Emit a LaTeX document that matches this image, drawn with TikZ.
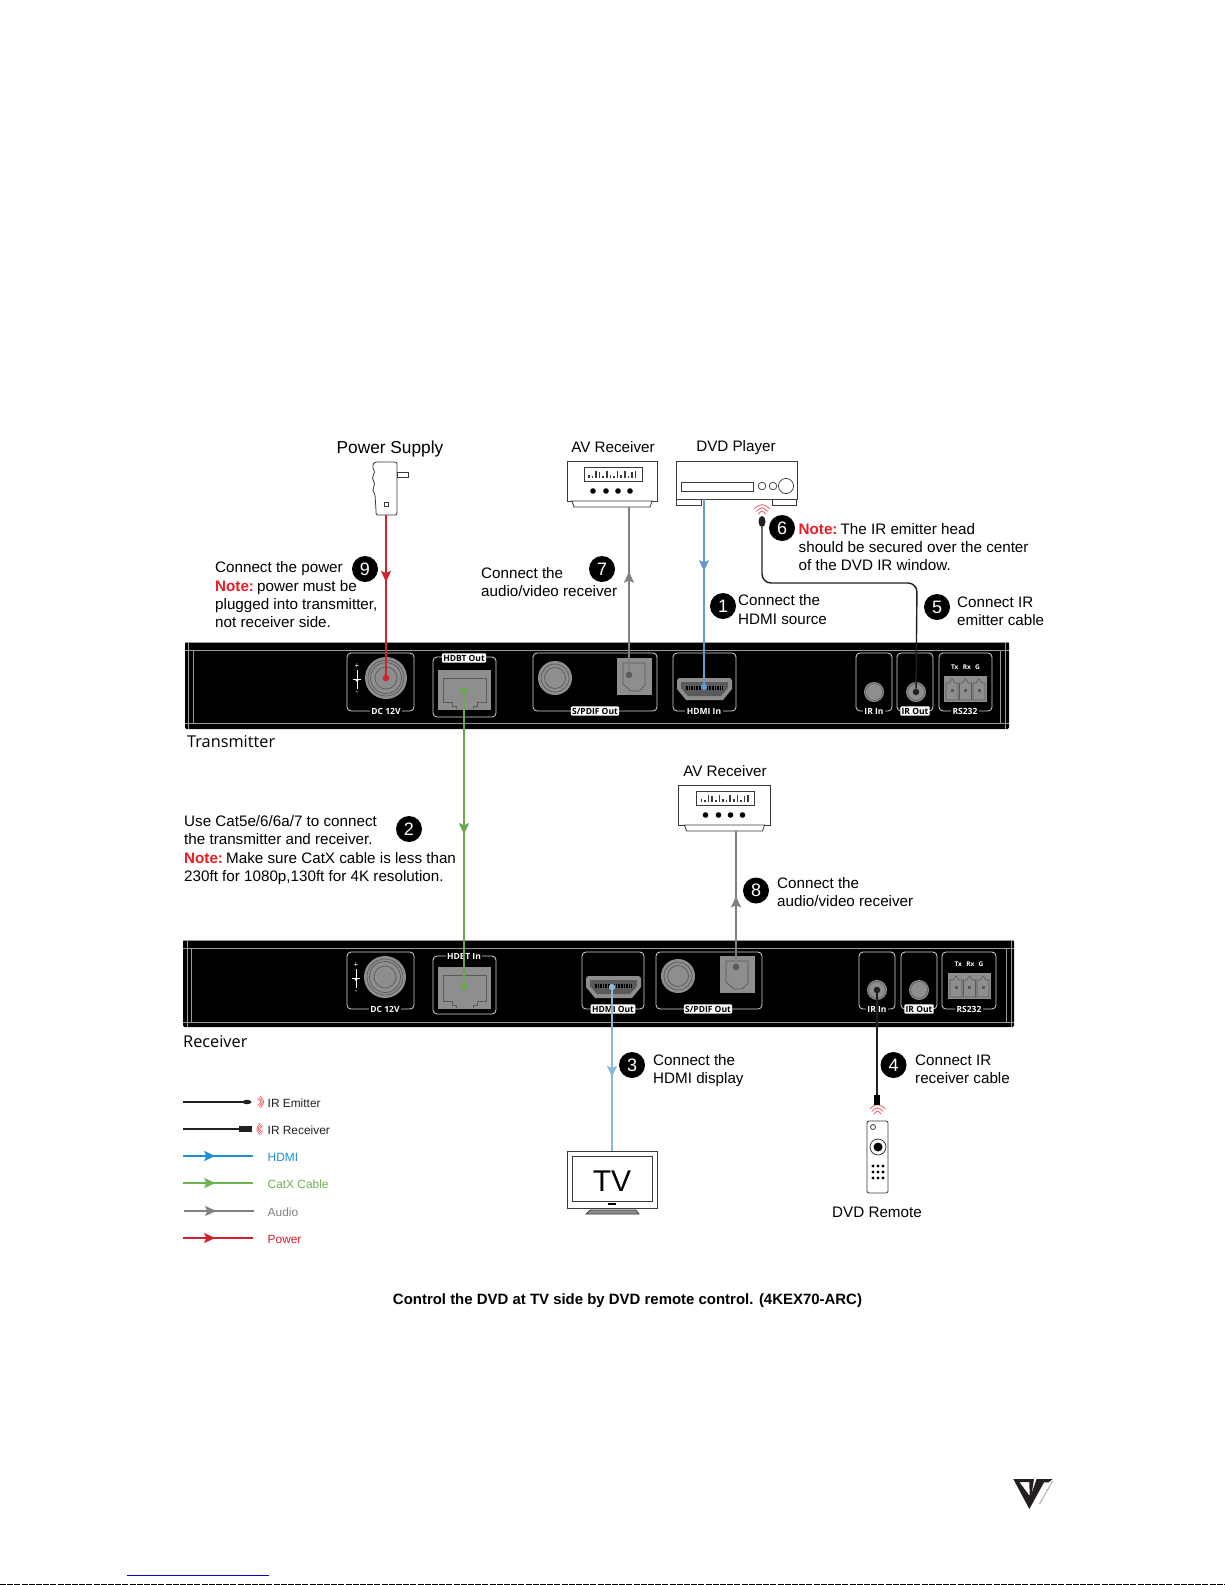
\documentclass[tikz,border=0pt]{standalone}
\usepackage{fontspec}
\setmainfont{Liberation Sans}
\newfontfamily\opn{Open Sans}
\usetikzlibrary{arrows.meta,decorations.markings,shapes.geometric,calc}
\definecolor{cred}{HTML}{D2232A}
\definecolor{cblue}{HTML}{6699CC}
\definecolor{cbluelt}{HTML}{8DB7DA}
\definecolor{cgreen}{HTML}{6AA84F}
\definecolor{cgrey}{HTML}{808080}
\definecolor{cink}{HTML}{231F20}
\definecolor{notered}{HTML}{ED1C24}
\definecolor{portgrey}{HTML}{8E8E8E}
\definecolor{portdark}{HTML}{5A5A5A}
\definecolor{lblue}{HTML}{1B8FD8}
\definecolor{lgreen}{HTML}{6DB24F}
\definecolor{lred}{HTML}{D2202E}
\definecolor{irred}{HTML}{EE5A5F}
\definecolor{devline}{HTML}{3A3A3A}
\newcommand{\fsz}[1]{\fontsize{#1}{#1}\selectfont}
\newcommand{\panelbody}[8]{% x0 y0 x1 y1 innerTop innerBottom leftA rightA
  \fill[black,rounded corners=1.5pt] (#1,#2) rectangle (#3,#4);
  \draw[panelline] (#1,#2+0.7) -- (#3,#2+0.7);
  \draw[panelline] (#1,#5) -- (#3,#5);
  \draw[panelline] (#1,#6) -- (#3,#6);
  \draw[panelline] (#7,#2) -- (#7,#4);
  \draw[panelline] (#7+4.5,#5) -- (#7+4.5,#6);
  \draw[panelline] (#8,#2) -- (#8,#4);
  \draw[panelline] (#8-4.5,#5) -- (#8-4.5,#6);
}
\newcommand{\portbox}[4]{\draw[portframe] (#1,#2) rectangle (#3,#4);}
\newcommand{\dcjack}[2]{%
  \fill[portgrey] (#1,#2) circle[radius=21pt];
  \draw[portdark,line width=0.7pt] (#1,#2) circle[radius=18pt] (#1,#2) circle[radius=15.5pt] (#1,#2) circle[radius=11pt];
  \fill[black!45] (#1,#2) circle[radius=7pt];
}
\newcommand{\dcsym}[2]{%
  \draw[white,line width=0.6pt] (#1,#2-10) -- (#1,#2+9);
  \fill[white] (#1-2.5,#2-1) -- (#1+2.5,#2-1) -- (#1,#2+2) -- cycle;
  \draw[white,line width=0.6pt] (#1-4,#2-1) -- (#1+4,#2-1);
  \node[font=\fsz{8},text=white,inner sep=0pt] at (#1,#2-14) {+};
  \node[font=\fsz{8},text=white,inner sep=0pt] at (#1,#2+13) {-};
}
\newcommand{\rjport}[4]{% x0 y0 x1 y1 (grey block)
  \fill[portgrey] (#1,#2) rectangle (#3,#4);
  \draw[portdark,line width=0.7pt] (#1+5,#4-8) -- (#1+5,#2+8) -- (#3-5,#2+8) -- (#3-5,#4-8) -- (#3-14,#4-8) -- (#3-14,#4-4) -- (#3-18,#4-4) -- (#3-18,#4-1);
  \draw[portdark,line width=0.7pt] (#1+5,#4-8) -- (#1+14,#4-8) -- (#1+14,#4-4) -- (#1+18,#4-4) -- (#1+18,#4-1);
}
\newcommand{\hdmiport}[2]{% x0 y0 (upper left corner)
  \fill[portgrey] (#1,#2+2) -- (#1+2,#2) -- (#1+53,#2) -- (#1+55,#2+2) -- (#1+55,#2+11) -- (#1+46,#2+22) -- (#1+9,#2+22) -- (#1,#2+11) -- cycle;
  \fill[portdark] (#1+4,#2+4) -- (#1+51,#2+4) -- (#1+51,#2+10) -- (#1+44,#2+18) -- (#1+11,#2+18) -- (#1+4,#2+10) -- cycle;
  \draw[black,line width=3.5pt,dash pattern=on 1.6pt off 1pt] (#1+9,#2+10) -- (#1+46,#2+10);
}
\newcommand{\optport}[2]{% x0 y0
  \fill[portgrey] (#1,#2) rectangle (#1+35,#2+37);
  \draw[portdark,line width=0.7pt] (#1+6,#2+5) -- (#1+6,#2+26) -- (#1+14,#2+33) -- (#1+22,#2+33) -- (#1+28,#2+27) -- (#1+28,#2+5) -- cycle;
}
\newcommand{\roundjack}[2]{%
  \fill[portgrey] (#1,#2) circle[radius=17pt];
  \draw[portdark,line width=0.7pt] (#1,#2) circle[radius=14pt] (#1,#2) circle[radius=10.5pt];
}
\newcommand{\smalljack}[2]{%
  \fill[portgrey] (#1,#2) circle[radius=10pt];
  \draw[portdark,line width=0.6pt] (#1,#2) circle[radius=8.5pt];
}
\newcommand{\termblock}[2]{% x0 y0 (width 43, height 26)
  \fill[portgrey] (#1,#2) rectangle (#1+43,#2+26);
  \foreach \k in {0,1,2}{
    \draw[portdark,line width=0.6pt] (#1+2+\k*13.5,#2+7) -- ++(0,17) -- ++(12,0) -- ++(0,-17) -- ++(-3,0) -- ++(-3,-4) -- ++(-3,4) -- cycle;
    \fill[portdark] (#1+6.5+\k*13.5,#2+13) rectangle ++(3,3);
  }
}
\newcommand{\eqbars}[2]{% x0, baseline y
  \foreach \xx/\hh in {0/3.5,1/2.5,2/7,3/6,4/2.5,5/7,6/3.5,7/2.5,8/7.5,9/3,10/7,11/2.5,12/6,13/7}
    \fill[devline] (#1+\xx*3.6,#2) rectangle ++(1.6,-\hh);
}
\newcommand{\irarcsup}[2]{%
  \begin{scope}[shift={(#1,#2)}]
    \foreach \r in {0,1,2}
      \draw[irred,line width=0.8pt] (-3.5-\r*2.2,-\r*2.6) .. controls (0,-4-\r*3.4) .. (3.5+\r*2.2,-\r*2.6);
  \end{scope}
}
\newcommand{\irarcsside}[3]{% x y dir
  \begin{scope}[shift={(#1,#2)}]
    \foreach \r in {0,1,2}
      \draw[irred,line width=0.7pt] (#3*\r*1.4,-3.2-\r*1.4) .. controls (#3*\r*1.4+#3*4.5,0) .. (#3*\r*1.4,3.2+\r*1.4);
  \end{scope}
}
\tikzset{
  x=1pt,y=-1pt,
  panelline/.style={draw=black!40,line width=0.7pt},
  portframe/.style={draw=white!85!black,line width=0.8pt,rounded corners=4pt},
  portlab/.style={text=white,fill=black,inner sep=1.4pt,font=\opn\bfseries\fsz{8.5}},
  portlabw/.style={text=black,fill=white,inner sep=1.4pt,rounded corners=1pt,font=\opn\bfseries\fsz{8.5}},
  portdot/.style={circle,fill=#1,inner sep=0pt,minimum size=6.5pt},
  cable/.style={color=#1,line width=1.5pt},
  midarrow/.style={postaction={decorate},decoration={markings,mark=at position #1 with {\arrow{Stealth[length=11pt,width=10pt,inset=2pt]}}}},
  numdot/.style={circle,fill=black,text=white,inner sep=0pt,minimum size=26pt,font=\fsz{18}},
  bodytext/.style={anchor=west,align=left,inner sep=0pt,font=\fontsize{15.2}{18.3}\selectfont,text=black},
  headtext/.style={inner sep=0pt,font=\fsz{15.2},text=black},
  sidetext/.style={anchor=west,inner sep=0pt,font=\opn\fsz{16.3},text=black},
  legtext/.style={anchor=west,inner sep=0pt,font=\fsz{11.9}},
  devbox/.style={draw=devline,line width=0.8pt,fill=white,inner sep=0pt},
  thinl/.style={draw=devline,line width=0.8pt,fill=white},
}
\newcommand{\nt}[1]{{\bfseries\color{notered}#1}}
\newcommand{\ntgap}{\hspace{-2.5pt}}
\begin{document}
\begin{tikzpicture}
\useasboundingbox (0,0) rectangle (1225,1585);
\fill[white] (0,0) rectangle (1225,1585);

%%% ---------- Transmitter panel
\panelbody{185}{642}{1009}{729}{650}{723}{188.5}{1005}
\portbox{347}{653}{414}{711}
\dcjack{386}{678}
\dcsym{357}{680}
\node[portlab] (tdc) at (386,711) {DC 12V};
\portbox{433}{657}{496}{717}
\rjport{438}{670}{491}{710}
\node[portlabw] (thdbt) at (464,658) {HDBT Out};
\portbox{533}{653}{657}{711}
\roundjack{555}{678}
\optport{617}{658}
\node[portlabw] (tspdif) at (595,711) {S/PDIF Out};
\portbox{673}{653}{736}{711}
\hdmiport{677}{678}
\node[portlab] (thdmi) at (704,711) {HDMI In};
\portbox{856}{653}{892}{711}
\smalljack{874}{692}
\node[portlab] (tirin) at (874,711) {IR In};
\portbox{897}{653}{933}{711}
\smalljack{916}{692}
\node[portlabw] (tirout) at (915,711) {IR Out};
\portbox{939}{653}{992}{711}
\node[font=\opn\bfseries\fsz{6.5},text=white,inner sep=0pt] (ttx) at (965.5,667) {Tx\,\,\,\,Rx\,\,\,\,G};
\termblock{944}{676}
\node[portlab] (trs) at (965,711) {RS232};

%%% ---------- Receiver panel
\panelbody{183}{940}{1014}{1027}{948}{1022}{187}{1011}
\portbox{347}{952}{414}{1009}
\dcjack{385}{977}
\dcsym{356}{979}
\node[portlab] (rdc) at (385,1009) {DC 12V};
\portbox{433}{956}{496}{1014}
\rjport{438}{967}{491}{1009}
\node[portlab] (rhdbt) at (464,956) {HDBT In};
\portbox{582}{952}{644}{1009}
\hdmiport{586}{976}
\node[portlabw] (rhdmi) at (613,1009) {HDMI Out};
\portbox{656}{952}{762}{1009}
\roundjack{678}{976}
\optport{720}{956}
\node[portlabw] (rspdif) at (708,1009) {S/PDIF Out};
\portbox{859}{952}{895}{1009}
\smalljack{877}{990}
\node[portlab] (ririn) at (877,1009) {IR In};
\portbox{901}{952}{937}{1009}
\smalljack{919}{990}
\node[portlabw] (rirout) at (919,1009) {IR Out};
\portbox{942}{952}{996}{1009}
\node[font=\opn\bfseries\fsz{6.5},text=white,inner sep=0pt] (rtx) at (969,964) {Tx\,\,\,\,Rx\,\,\,\,G};
\termblock{948}{973}
\node[portlab] (rrs) at (969,1009) {RS232};

%%% ---------- Power supply
\node[headtext,font=\fsz{17.3}] (psulab) at (390,449) {Power Supply};
\draw[thinl] (377,462) -- (394,462) .. controls (397,462) .. (397,466) -- (397,510) .. controls (397,515) .. (393,515) -- (380,515) .. controls (376,515) .. (376,510) -- (375,495) -- (373,490) -- (374.5,484) -- (372.5,478) -- (374.5,472) -- (373,468) .. controls (373,463) .. (377,462) -- cycle;
\draw[thinl] (397,472) -- (408,472) -- (408,477) -- (397,477) -- cycle;
\draw[devline,line width=0.7pt] (384,502) rectangle (388,506);
\coordinate (psuout) at (386,515);

%%% ---------- AV receiver (top)
\node[headtext] (av1lab) at (613,447.5) {AV Receiver};
\node[devbox,minimum width=90pt,minimum height=40pt] (av1) at (612,481) {};
\draw[thinl] (572,501) -- (652,501) -- (650,507) -- (574,507) -- cycle;
\coordinate (av1foot) at (612,507);
\node[devbox,minimum width=58pt,minimum height=14pt] (av1disp) at (613,474) {};
\eqbars{588}{478}
\foreach \xx in {593,606,618,630}
  \fill[black] (\xx,491) circle[radius=2.8pt];

%%% ---------- DVD player
\node[headtext] (dvdlab) at (736,447.5) {DVD Player};
\node[devbox,minimum width=121pt,minimum height=38pt] (dvd) at (736.5,480) {};
\node[devbox,minimum width=25pt,minimum height=6pt] (dvdfl) at (688.5,502) {};
\node[devbox,minimum width=24pt,minimum height=6pt] (dvdfr) at (784,502) {};
\node[devbox,minimum width=72pt,minimum height=9pt] (dvdslot) at (717,486.5) {};
\draw[devline,line width=0.7pt] (762,486) circle[radius=3.8pt] (773,486) circle[radius=3.8pt] (786,486) circle[radius=7.6pt];

%%% ---------- AV receiver (lower)
\node[headtext] (av2lab) at (725,771) {AV Receiver};
\node[devbox,minimum width=92pt,minimum height=40pt] (av2) at (724.5,805) {};
\draw[thinl] (684.5,825) -- (764.5,825) -- (762.5,831) -- (686.5,831) -- cycle;
\coordinate (av2foot) at (724.5,831);
\node[devbox,minimum width=58pt,minimum height=14pt] (av2disp) at (725.5,798) {};
\eqbars{700.5}{802}
\foreach \xx in {705.5,718.5,730.5,742.5}
  \fill[black] (\xx,815) circle[radius=2.8pt];

%%% ---------- TV
\node[devbox,minimum width=90pt,minimum height=57pt] (tv) at (612,1179.5) {};
\node[devbox,minimum width=80pt,minimum height=45pt] (tvscreen) at (612,1178.5) {};
\node[inner sep=0pt,font=\fsz{30}] (tvlab) at (612,1181) {TV};
\fill[black] (608,1202.5) rectangle (616,1205);
\draw[devline,line width=0.7pt,fill=black!45] (590,1210) -- (636,1210) -- (639,1214) -- (586,1214) -- cycle;

%%% ---------- Remote
\irarcsup{877.5}{1114}
\draw[devline,line width=0.8pt,fill=white,rounded corners=2pt] (867,1121) rectangle (888,1193);
\node[devbox,circle,minimum size=5pt] (rempow) at (873,1127) {};
\node[devbox,circle,minimum size=16pt,draw=devline] (remring) at (878,1147) {};
\node[circle,fill=black,inner sep=0pt,minimum size=9pt] (remknob) at (878,1147) {};
\foreach \xx in {873,878,883} \foreach \yy in {1166,1172,1178}
  \fill[black] (\xx,\yy) circle[radius=1.6pt];
\node[rectangle,fill=black,inner sep=0pt,minimum width=6pt,minimum height=10pt] (rplug) at (877,1100) {};
\node[headtext] (remlab) at (877,1212) {DVD Remote};

%%% ---------- IR emitter head
\irarcsup{762}{514}
\node[ellipse,fill=cink,inner sep=0pt,minimum width=7pt,minimum height=11pt] (emith) at (762,521.5) {};
\coordinate (emitbend) at (917,583);

%%% ---------- Port end dots
\node[portdot=cred] (djackT) at (386,678) {};
\node[portdot=cgreen] (rjT) at (464,690) {};
\node[portdot=portdark] (optT) at (629,675) {};
\node[portdot=cblue] (hdT) at (704,687) {};
\node[portdot=cink] (iroutT) at (916,692) {};
\node[portdot=cgreen] (rjR) at (464,987) {};
\node[portdot=cbluelt] (hdR) at (612,987) {};
\node[portdot=portdark] (optR) at (736,967) {};
\node[portdot=cink] (irinR) at (877,990) {};

%%% ---------- Connectors
\draw[cable=cred,midarrow=0.42] (psuout) -- (djackT);
\draw[cable=cgrey,midarrow=0.607] (optT) -- (optT |- av1foot);
\draw[cable=cblue,midarrow=0.39] (dvd.south -| hdT) -- (hdT);
\draw[cink,line width=1.4pt,rounded corners=9pt] (emith.south) |- (emitbend) -- (iroutT);
\draw[cable=cgreen,midarrow=0.485] (rjT) -- (rjR);
\draw[cable=cgrey,midarrow=0.507] (optR) -- (optR |- av2foot);
\draw[cable=cbluelt,midarrow=0.54] (hdR) -- (tv.north -| hdR);
\draw[cink,line width=1.4pt] (irinR) -- (rplug);

%%% ---------- Side labels
\node[sidetext] (txlab) at (187,742) {Transmitter};
\node[sidetext] (rxlab) at (183,1042) {Receiver};

%%% ---------- Numbers
\node[numdot] (n1) at (723,606) {1};
\node[numdot] (n2) at (409,829) {2};
\node[numdot] (n3) at (632,1065) {3};
\node[numdot] (n4) at (893.5,1065) {4};
\node[numdot] (n5) at (937,607) {5};
\node[numdot] (n6) at (782,528) {6};
\node[numdot] (n7) at (602,569) {7};
\node[numdot] (n8) at (756,890.5) {8};
\node[numdot] (n9) at (365,569) {9};

%%% ---------- Body text
\node[bodytext] (t9) at (215,594.8) {Connect the power\\\nt{Note:}\ntgap{} power must be\\plugged into transmitter,\\not receiver side.};
\node[bodytext] (t7) at (481,582) {Connect the\\audio/video receiver};
\node[bodytext] (t1) at (738,609.5) {Connect the\\HDMI source};
\node[bodytext] (t5) at (957,611.5) {Connect IR\\emitter cable};
\node[bodytext] (t6) at (798.5,547) {\nt{Note:}\ntgap{} The IR emitter head\\should be secured over the center\\of the DVD IR window.};
\node[bodytext] (t2) at (184,850) {Use Cat5e/6/6a/7 to connect\\the transmitter and receiver.\\\nt{Note:}\ntgap{} Make sure CatX cable is less than\\230ft for 1080p,130ft for 4K resolution.};
\node[bodytext] (t8) at (777,892) {Connect the\\audio/video receiver};
\node[bodytext] (t3) at (653,1070.5) {Connect the\\HDMI display};
\node[bodytext] (t4) at (915,1069) {Connect IR\\receiver cable};

%%% ---------- Legend
\coordinate (le1a) at (183,1102); \coordinate (le1b) at (247,1102);
\coordinate (le2a) at (183,1129); \coordinate (le2b) at (239,1129);
\coordinate (le3a) at (183,1156); \coordinate (le3b) at (253,1156);
\coordinate (le4a) at (183,1183); \coordinate (le4b) at (253,1183);
\coordinate (le5a) at (184,1211); \coordinate (le5b) at (254,1211);
\coordinate (le6a) at (183,1238); \coordinate (le6b) at (253,1238);
\draw[cink,line width=1.2pt] (le1a) -- (le1b);
\fill[cink] (247,1102) ellipse[x radius=4.5pt,y radius=2.2pt];
\irarcsside{257.5}{1102}{1}
\draw[cink,line width=1.2pt] (le2a) -- (le2b);
\fill[cink] (239,1126) rectangle (252,1132);
\irarcsside{263}{1129}{-1}
\draw[cable=lblue,midarrow=0.46] (le3a) -- (le3b);
\draw[cable=lgreen,midarrow=0.46] (le4a) -- (le4b);
\draw[cable=cgrey,midarrow=0.46] (le5a) -- (le5b);
\draw[cable=lred,midarrow=0.46] (le6a) -- (le6b);
\node[legtext,text=cink] (lt1) at (267.5,1103) {IR Emitter};
\node[legtext,text=cink] (lt2) at (267.5,1130) {IR Receiver};
\node[legtext,text=lblue] (lt3) at (267.5,1157) {HDMI};
\node[legtext,text=lgreen] (lt4) at (267.5,1184.5) {CatX Cable};
\node[legtext,text=cgrey] (lt5) at (267.5,1212) {Audio};
\node[legtext,text=lred] (lt6) at (267.5,1239.5) {Power};

%%% ---------- Caption
\node[inner sep=0pt,font=\bfseries\fsz{14.95}] (caption) at (627.5,1301) {Control the DVD at TV side by DVD remote control. (4KEX70-ARC)};

%%% ---------- Logo
\begin{scope}[shift={(990,1460)},scale=0.3333]
  \fill[cink,even odd rule] (70,57) -- (132,57) -- (118,147) -- cycle (88,66) -- (118,66) -- (119,108) -- cycle;
  \fill[cink] (140,57) -- (188,57) -- (176,67) -- (162,67) -- (118,147) -- (116,125) -- cycle;
  \fill[black!35] (187,62) -- (190,62) -- (150,132) -- (147,132) -- cycle;
\end{scope}

%%% ---------- Page foot
\draw[blue!85!black,line width=1.2pt] (127,1575.5) -- (269,1575.5);
\draw[black,line width=1pt,dash pattern=on 6pt off 1.2pt] (0,1584.5) -- (1225,1584.5);
\end{tikzpicture}
\end{document}
